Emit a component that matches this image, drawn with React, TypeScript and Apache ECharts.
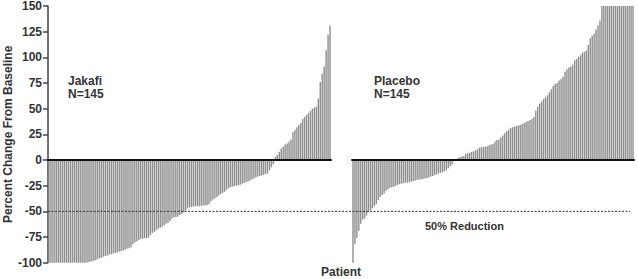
import React, { useEffect, useRef } from "react";
import * as echarts from "echarts";

const jakafiValues: number[] = [
  -100, -100, -100, -100, -100, -100, -100, -100, -100, -100, -100,
  -100, -100, -100, -100, -100, -100, -100, -100, -100,
  -99.5, -99, -98.5, -98, -97.5, -96.5, -95.5, -95, -94, -93.5,
  -93, -92, -91.5, -91, -90.5, -90, -89, -88.5, -88, -87.5,
  -86.5, -86, -85, -82, -80, -79, -78, -77, -76.5, -76,
  -76, -75.5, -73, -71, -70, -68.5, -67, -66, -65, -63.5,
  -62, -61, -59.5, -57, -56, -55.5, -55, -53.5, -52.5, -51,
  -49, -47, -46, -45.5, -45.5, -45, -45, -45, -44.5, -44.5,
  -44, -44, -43, -40.5, -38.5, -37, -36, -34.5, -33, -32,
  -31, -29, -27.5, -26.5, -26, -25.5, -25, -24.5, -24, -23,
  -22.5, -21.5, -21, -20, -19, -18, -17, -16, -15.5, -15,
  -14.5, -13.5, -13, -10, -7, -4,
  3, 5, 8, 11, 13, 15, 16, 18, 20, 27,
  29, 32, 34, 36, 40, 42, 44, 46, 48, 50,
  51, 52, 60, 76, 84, 91, 107, 122, 131,
];

const placeboValues: number[] = [
  -100, -82, -76, -69, -62, -58, -57, -54, -51, -49,
  -47, -45, -43, -39, -36, -34, -32.5, -30, -28.5, -27,
  -26.5, -26, -25, -24, -23.5, -23, -22.5, -22, -22, -21.5,
  -21, -20.5, -20, -19.5, -19, -19, -18.5, -18, -17.5, -17,
  -16, -15.5, -14.5, -14, -13, -12.5, -12, -11, -10, -8,
  -6, -4, -0.5, 0.5,
  2, 3, 3.5, 4, 6, 6.5, 7, 8, 8.5, 9.5,
  10.5, 12, 12.5, 13, 13, 13.5, 14.5, 15, 15.5, 18,
  19.5, 20, 22, 24, 26, 28, 29.5, 31, 32, 32.5,
  33, 33.5, 34, 35, 36, 37, 38, 39, 40, 42,
  48, 52, 55, 57, 59.5, 61, 63, 66, 69, 72,
  74, 75, 77.5, 79, 81, 86, 88.5, 90, 91, 93,
  97, 98.5, 100.5, 102, 104.5, 105.5, 106.5, 112, 118.5, 121,
  123, 127, 131, 136,
  150, 150, 150, 150, 150, 150, 150, 150, 150, 150,
  150, 150, 150, 150, 150, 150, 150,
];

const groupLabels = ["Jakafi", "Placebo"];
const groupSizes = ["N=145", "N=145"];
const referenceLevel = -50;
const referenceLabel = "50% Reduction";
const yAxisTitle = "Percent Change From Baseline";
const xAxisTitle = "Patient";
const yMin = -100;
const yMax = 150;
const yStep = 25;

const FONT = "'Liberation Sans', Arial, Helvetica, sans-serif";
const TEXT_COLOR = "#333";
const BAR_COLOR = "#8e8e8e";

export default function App() {
  const ref = useRef<HTMLDivElement>(null);

  useEffect(() => {
    if (!ref.current) return;
    const chart = echarts.init(ref.current, null, { renderer: "svg" });

    const grids = [
      { left: 48, top: 6, width: 283, height: 256.7 },
      { left: 352, top: 6, width: 282, height: 256.7 },
    ];

    const makeX = (gridIndex: number, n: number) => ({
      gridIndex,
      type: "category",
      data: Array.from({ length: n }, (_, i) => String(i + 1)),
      z: 5,
      axisLine: { show: true, onZero: true, lineStyle: { color: "#111", width: 2 } },
      axisTick: { show: false },
      axisLabel: { show: false },
      splitLine: { show: false },
    });

    const option: any = {
      animation: false,
      grid: grids,
      xAxis: [makeX(0, jakafiValues.length), makeX(1, placeboValues.length)],
      yAxis: [
        {
          gridIndex: 0,
          type: "value",
          min: yMin,
          max: yMax,
          interval: yStep,
          axisLine: { show: true, lineStyle: { color: "#444", width: 1.5 } },
          axisTick: { show: true, length: 5, lineStyle: { color: "#444", width: 1.5 } },
          axisLabel: {
            color: TEXT_COLOR,
            fontWeight: "bold",
            fontSize: 12,
            fontFamily: FONT,
            margin: 6,
          },
          splitLine: { show: false },
          name: yAxisTitle,
          nameLocation: "middle",
          nameGap: 34,
          nameTextStyle: {
            color: TEXT_COLOR,
            fontWeight: "bold",
            fontSize: 12,
            fontFamily: FONT,
          },
        },
        {
          gridIndex: 1,
          type: "value",
          min: yMin,
          max: yMax,
          interval: yStep,
          show: false,
          splitLine: { show: false },
        },
      ],
      series: [
        {
          type: "bar",
          xAxisIndex: 0,
          yAxisIndex: 0,
          data: jakafiValues,
          barWidth: "72%",
          itemStyle: { color: BAR_COLOR },
          z: 2,
        },
        {
          type: "bar",
          xAxisIndex: 1,
          yAxisIndex: 1,
          data: placeboValues,
          barWidth: "72%",
          itemStyle: { color: BAR_COLOR },
          z: 2,
        },
      ],
    };
    chart.setOption(option);

    const yRef = chart.convertToPixel({ yAxisIndex: 0 }, referenceLevel) as number;
    const textStyle = (text: string, size = 12) => ({
      text,
      fill: TEXT_COLOR,
      font: `bold ${size}px ${FONT}`,
      textVerticalAlign: "middle",
    });

    chart.setOption({
      graphic: [
        {
          type: "line",
          z: 10,
          shape: { x1: grids[0].left, y1: yRef, x2: 630, y2: yRef },
          style: { stroke: "#333", lineWidth: 1, lineDash: [2, 1.5] },
        },
        { type: "text", x: 68, y: 80.5, style: textStyle(groupLabels[0]) },
        { type: "text", x: 68, y: 93.5, style: textStyle(groupSizes[0]) },
        { type: "text", x: 374, y: 80.5, style: textStyle(groupLabels[1]) },
        { type: "text", x: 374, y: 93.5, style: textStyle(groupSizes[1]) },
        { type: "text", x: 425, y: 226, style: textStyle(referenceLabel, 11) },
        {
          type: "text",
          x: 341,
          y: 272,
          style: { ...textStyle(xAxisTitle), textAlign: "center" },
        },
      ],
    });

    return () => chart.dispose();
  }, []);

  return (
    <div
      ref={ref}
      style={{ position: "absolute", left: 0, top: 0, width: 638, height: 279, background: "#fff" }}
    />
  );
}
